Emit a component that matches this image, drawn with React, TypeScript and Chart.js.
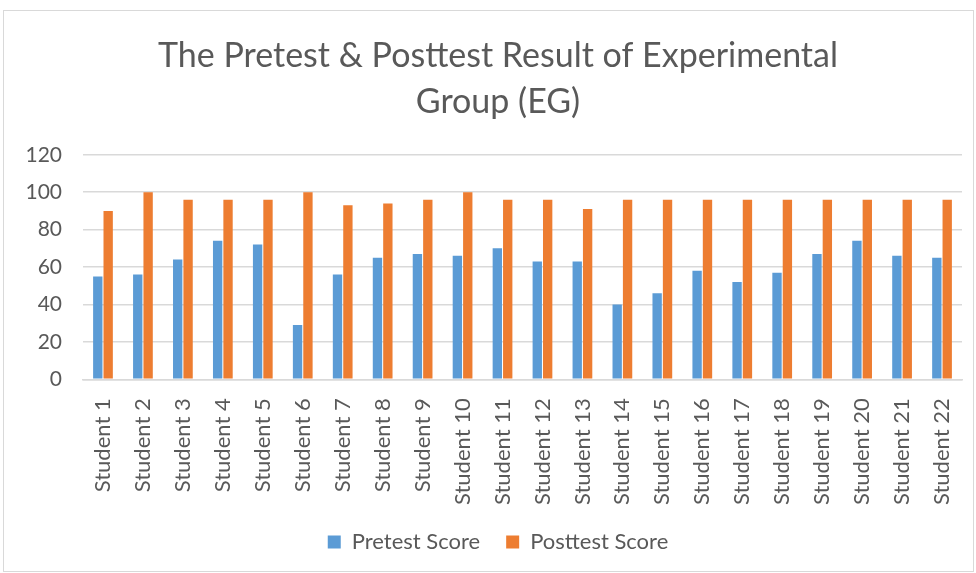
import React, { useEffect, useRef } from "react";
import { Chart, registerables } from "chart.js";

Chart.register(...registerables);

const categories = [
  "Student 1", "Student 2", "Student 3", "Student 4", "Student 5", "Student 6",
  "Student 7", "Student 8", "Student 9", "Student 10", "Student 11", "Student 12",
  "Student 13", "Student 14", "Student 15", "Student 16", "Student 17", "Student 18",
  "Student 19", "Student 20", "Student 21", "Student 22",
];
const pretest = [55, 56, 64, 74, 72, 29, 56, 65, 67, 66, 70, 63, 63, 40, 46, 58, 52, 57, 67, 74, 66, 65];
const posttest = [90, 100, 96, 96, 96, 100, 93, 94, 96, 100, 96, 96, 91, 96, 96, 96, 96, 96, 96, 96, 96, 96];
const titleLines = ["The Pretest & Posttest Result of Experimental", "Group (EG)"];

const FONT = "Lato, 'Open Sans', sans-serif";
const TEXT = "#595959";
const GRID = "#d9d9d9";

export default function App() {
  const ref = useRef<HTMLCanvasElement>(null);
  useEffect(() => {
    document.body.style.margin = "0";
    const chart = new Chart(ref.current!, {
      type: "bar",
      data: {
        labels: categories,
        datasets: [
          { label: "Pretest Score", data: pretest, backgroundColor: "#5B9BD5", categoryPercentage: 0.52, barPercentage: 0.9 },
          { label: "Posttest Score", data: posttest, backgroundColor: "#ED7D31", categoryPercentage: 0.52, barPercentage: 0.9 },
        ],
      },
      options: {
        animation: false,
        responsive: false,
        maintainAspectRatio: false,
        layout: { padding: { left: 34, right: 14, top: 0, bottom: 22 } },
        plugins: {
          tooltip: { enabled: false },
          title: {
            display: true,
            text: titleLines,
            color: TEXT,
            font: { family: FONT, size: 34, weight: "normal", lineHeight: 1.35 },
            padding: { top: 33, bottom: 30 },
          },
          legend: {
            position: "bottom",
            maxHeight: 46,
            labels: {
              color: TEXT,
              font: { family: FONT, size: 22 },
              boxWidth: 13,
              boxHeight: 13,
              padding: 26,
            },
          },
        },
        scales: {
          x: {
            grid: { display: false },
            border: { display: true, color: GRID, width: 1.5 },
            ticks: {
              color: TEXT,
              font: { family: FONT, size: 22 },
              maxRotation: 90,
              minRotation: 90,
              autoSkip: false,
              padding: 11,
            },
            afterFit: (scale: any) => {
              scale.paddingLeft = 0;
              scale.paddingRight = 0;
              scale.height = scale.height - 11;
            },
          },
          y: {
            min: 0,
            max: 120,
            ticks: { stepSize: 20, color: TEXT, font: { family: FONT, size: 21 }, padding: 21 },
            grid: { color: GRID, lineWidth: 1.5, drawTicks: false },
            border: { display: false },
            afterFit: (scale: any) => {
              scale.width = 49;
              scale._computeLabelArea = () => undefined;
            },
          },
        },
      },
    });
    return () => chart.destroy();
  }, []);
  return (
    <div style={{ position: "relative", width: 976, height: 573, background: "#fff" }}>
      <div style={{ position: "absolute", left: 3, top: 10, width: 971, height: 562, border: "1px solid #d9d9d9", boxSizing: "border-box" }} />
      <canvas ref={ref} width={976} height={573} style={{ position: "absolute", left: 0, top: 0, width: 976, height: 573 }} />
    </div>
  );
}
